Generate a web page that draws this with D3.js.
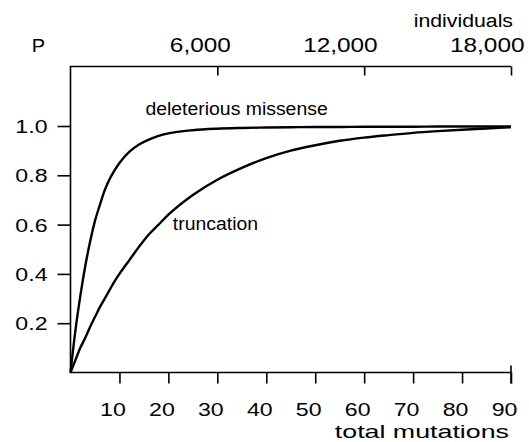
<!DOCTYPE html>
<html><head><meta charset="utf-8">
<script src="https://cdn.jsdelivr.net/npm/d3@7"></script>
<style>
body{margin:0;background:#fff}
svg text{font-family:"Liberation Sans",Arial,Helvetica,sans-serif;fill:#000}
</style>
</head><body>
<svg id="c" width="529" height="442"></svg>
<script>
// ---- data ----
const mutations   = [0,1,2,3,4,5,6,7,8,9,10,12,14,16,18,20,25,30,35,40,45,50,55,60,65,70,75,80,85,90];
const missenseP   = [0,0.17,0.31,0.43,0.53,0.615,0.68,0.74,0.785,0.82,0.85,0.895,0.925,0.945,0.96,0.97,0.983,0.989,0.992,0.994,0.995,0.996,0.996,0.997,0.997,0.997,0.998,0.998,0.998,0.998];
const truncationP = [0,0.05,0.1,0.14,0.185,0.225,0.265,0.3,0.335,0.37,0.4,0.455,0.51,0.56,0.6,0.64,0.72,0.782,0.83,0.87,0.9,0.922,0.94,0.953,0.963,0.972,0.979,0.985,0.99,0.995];
const bottomTicks = [10,20,30,40,50,60,70,80,90];
const topTicks    = [6000,12000,18000];
const topTickLabels = ["6,000","12,000","18,000"];
const yTicks      = [0.2,0.4,0.6,0.8,1.0];
const yTickLabels = ["0.2","0.4","0.6","0.8","1.0"];
const seriesNames = ["deleterious missense","truncation"];

// ---- layout ----
const svg = d3.select("#c");
const L = 70.5, R = 511, T = 66.5, B = 372.5, Y1 = 126;
const x = d3.scaleLinear().domain([0,90]).range([L,R]);
const xTop = d3.scaleLinear().domain([0,18000]).range([L,R]);
const y = d3.scaleLinear().domain([0,1]).range([B,Y1]);
const numSize = 18.5, numSX = 1.25;

// bottom axis
const gB = svg.append("g").attr("transform",`translate(0,${B})`)
  .call(d3.axisBottom(x).tickValues(bottomTicks).tickSize(11).tickSizeOuter(0).tickFormat(d3.format("d")));
gB.select(".domain").remove();
gB.selectAll(".tick line").attr("stroke","#000").attr("stroke-width",1.6);
gB.selectAll(".tick text").attr("y",43.5).attr("dy",0).attr("x",-7/numSX)
  .style("font-size",numSize+"px").attr("transform",`scale(${numSX},1)`);

// top axis
const gT = svg.append("g").attr("transform",`translate(0,${T})`)
  .call(d3.axisTop(xTop).tickValues(topTicks).tickSize(-9).tickSizeOuter(0)
    .tickFormat((d,i)=>topTickLabels[i]));
gT.select(".domain").remove();
gT.selectAll(".tick line").attr("stroke","#000").attr("stroke-width",1.6);
gT.selectAll(".tick text").attr("y",-14.5).attr("dy",0).attr("x",13/numSX)
  .attr("text-anchor","end")
  .style("font-size","19.5px").attr("transform",`scale(${numSX},1)`);

// left axis
const gL = svg.append("g").attr("transform",`translate(${L},0)`)
  .call(d3.axisLeft(y).tickValues(yTicks).tickSize(13).tickSizeOuter(0)
    .tickFormat((d,i)=>yTickLabels[i]));
gL.select(".domain").remove();
gL.selectAll(".tick line").attr("stroke","#000").attr("stroke-width",1.6);
gL.selectAll(".tick text").attr("x",-23/numSX).attr("dy","0.36em")
  .style("font-size",numSize+"px").attr("transform",`scale(${numSX},1)`);

// frame lines
svg.append("path")
  .attr("d",`M${R},${T}H${L}V${B}H${R}M${R},${B-7}V${B+11}`)
  .attr("fill","none").attr("stroke","#000").attr("stroke-width",1.6);

// curves
const line = d3.line().x(d=>x(d[0])).y(d=>y(d[1])).curve(d3.curveMonotoneX);
[missenseP, truncationP].forEach(vals=>{
  svg.append("path").datum(mutations.map((m,i)=>[m,vals[i]]))
    .attr("d",line).attr("fill","none").attr("stroke","#000").attr("stroke-width",2.4);
});

// labels
function label(txt, px, py, anchor, size, sx){
  svg.append("text").text(txt).attr("text-anchor",anchor)
    .style("font-size",size+"px")
    .attr("transform",`translate(${px},${py}) scale(${sx},1)`);
}
label(seriesNames[0], x(15.3), y(1.0)-11, "start", 18.5, 1.05);
label(seriesNames[1], x(20.9), y(0.58), "start", 18.5, 1.05);
label("P", L-32, T-14.5, "middle", 19, 1.05);
label("individuals", R+2, T-40, "end", 19, 1.12);
label("total mutations", R-2, B+65, "end", 19, 1.41);
</script>
</body></html>
